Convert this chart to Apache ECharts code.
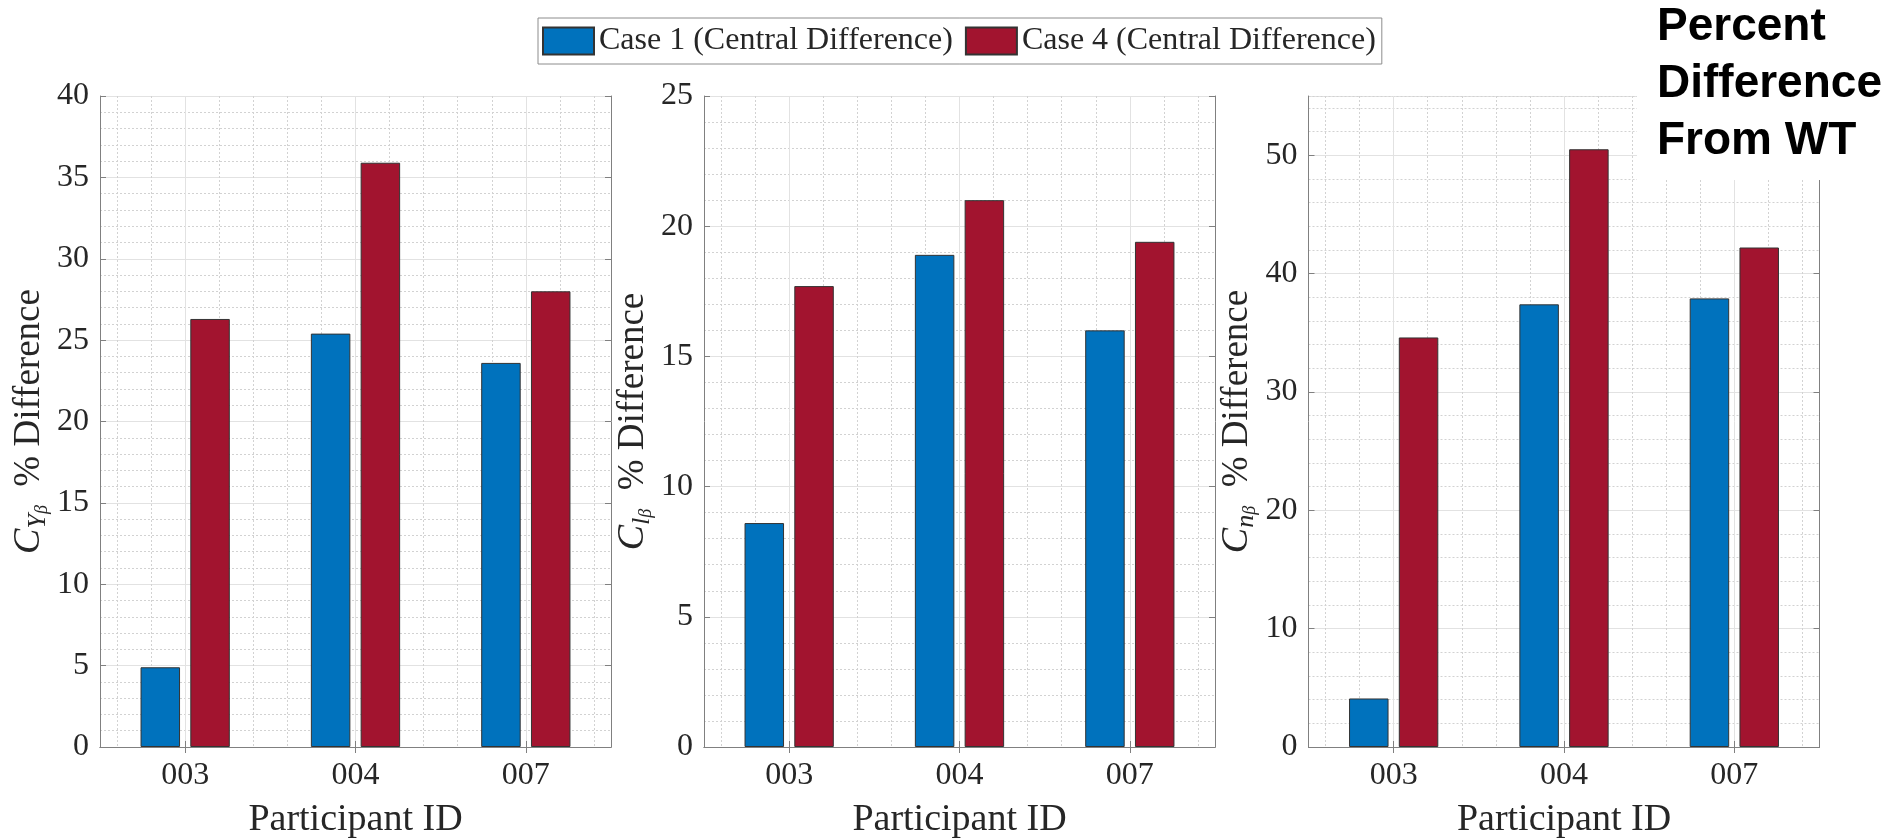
<!DOCTYPE html>
<html><head><meta charset="utf-8">
<script src="https://cdn.jsdelivr.net/npm/echarts@6/dist/echarts.min.js"></script>
<style>html,body{margin:0;padding:0;background:#fff;} #c{width:1901px;height:838px;}</style>
</head><body><div id="c"></div>
<script>
// ---- data ----
const categories = ['003', '004', '007'];
const seriesNames = ['Case 1 (Central Difference)', 'Case 4 (Central Difference)'];
const case1_CY = [4.9, 25.4, 23.6];
const case4_CY = [26.3, 35.9, 28.0];
const case1_Cl = [8.6, 18.9, 16.0];
const case4_Cl = [17.7, 21.0, 19.4];
const case1_Cn = [4.1, 37.4, 37.9];
const case4_Cn = [34.6, 50.5, 42.2];
const yMaxes = [40, 25, 55];
const yMajor = [5, 5, 10];
const yMinor = [1, 1, 2];
const subLetters = ['Y', 'l', 'n'];
const xName = 'Participant ID';
const annotation = ['Percent', 'Difference', 'From WT'];

// ---- style ----
const SERIF = '"Liberation Serif", "Times New Roman", serif';
const TXT = '#262626';
const AX = '#808080';
const MAJ = '#e2e2e2';
const MIN = '#d2d2d2';
const T = 'rgba(0,0,0,0)';
const colors = ['#0072BD', '#A2142F'];
const lefts = [100, 704, 1308.5];
const W = 511, TOP = 96, H = 651;

const panels = [[case1_CY, case4_CY], [case1_Cl, case4_Cl], [case1_Cn, case4_Cn]];

const grid = [], xAxis = [], yAxis = [], series = [];
panels.forEach((vals, i) => {
  grid.push({left: lefts[i], top: TOP, width: W, height: H, containLabel: false, outerBoundsMode: 'none'});
  // bottom category axis
  xAxis.push({
    type: 'category', gridIndex: i, data: categories, position: 'bottom',
    axisLine: {show: true, lineStyle: {color: AX, width: 1}},
    axisTick: {show: true, inside: true, alignWithLabel: true, length: 6, lineStyle: {color: AX}},
    axisLabel: {fontFamily: SERIF, fontSize: 32, color: TXT, margin: 13},
    splitLine: {show: false},
    name: xName, nameLocation: 'middle', nameGap: 54,
    nameTextStyle: {fontFamily: SERIF, fontSize: 38, color: TXT}
  });
  // top category axis (box)
  xAxis.push({
    type: 'category', gridIndex: i, data: categories, position: 'top',
    axisLine: {show: true, lineStyle: {color: AX, width: 1}},
    axisTick: {show: true, inside: true, alignWithLabel: true, length: 6, lineStyle: {color: AX}},
    axisLabel: {show: false}, splitLine: {show: false}
  });
  // minor vertical grid
  xAxis.push({
    type: 'value', gridIndex: i, min: 0.5, max: 3.5, interval: 0.1, position: 'bottom',
    axisLine: {show: false}, axisTick: {show: false}, axisLabel: {show: false},
    splitLine: {show: true, lineStyle: {color: [T, MIN, T, MIN, T, T, T, MIN, T, MIN], type: [2, 2], width: 1}}
  });
  // major vertical grid
  xAxis.push({
    type: 'value', gridIndex: i, min: 0.5, max: 3.5, interval: 0.5, position: 'bottom',
    axisLine: {show: false}, axisTick: {show: false}, axisLabel: {show: false},
    splitLine: {show: true, lineStyle: {color: [T, MAJ], width: 1}}
  });
  // left y axis
  yAxis.push({
    type: 'value', gridIndex: i, min: 0, max: yMaxes[i], interval: yMajor[i], position: 'left',
    axisLine: {show: true, lineStyle: {color: AX, width: 1}},
    axisTick: {show: true, inside: true, length: 6, lineStyle: {color: AX}},
    axisLabel: {fontFamily: SERIF, fontSize: 32, color: TXT, margin: 11, showMaxLabel: i !== 2},
    splitLine: {show: true, lineStyle: {color: MAJ, width: 1}},
    name: '{c|C}{s|' + subLetters[i] + '}{b|β}{t|  % Difference}',
    nameLocation: 'middle', nameRotate: 90, nameGap: 49,
    nameTextStyle: {
      rich: {
        c: {fontFamily: SERIF, fontStyle: 'italic', fontSize: 38, color: TXT, lineHeight: 44},
        s: {fontFamily: SERIF, fontStyle: 'italic', fontSize: 26, color: TXT, lineHeight: 26, verticalAlign: 'bottom'},
        b: {fontFamily: SERIF, fontStyle: 'italic', fontSize: 18, color: TXT, lineHeight: 12, verticalAlign: 'bottom'},
        t: {fontFamily: SERIF, fontSize: 37, color: TXT, lineHeight: 44}
      }
    }
  });
  // right y axis (box)
  yAxis.push({
    type: 'value', gridIndex: i, min: 0, max: yMaxes[i], interval: yMajor[i], position: 'right',
    axisLine: {show: true, lineStyle: {color: AX, width: 1}},
    axisTick: {show: true, inside: true, length: 6, lineStyle: {color: AX}},
    axisLabel: {show: false}, splitLine: {show: false}
  });
  // minor horizontal grid
  yAxis.push({
    type: 'value', gridIndex: i, min: 0, max: yMaxes[i], interval: yMinor[i], position: 'left',
    axisLine: {show: false}, axisTick: {show: false}, axisLabel: {show: false},
    splitLine: {show: true, lineStyle: {color: [T, MIN, MIN, MIN, MIN], type: [2, 2], width: 1}}
  });
  vals.forEach((arr, k) => {
    series.push({
      type: 'bar', name: seriesNames[k], xAxisIndex: 4 * i, yAxisIndex: 3 * i,
      data: arr, barWidth: 39.5, barGap: '26%', z: 3,
      itemStyle: {color: colors[k], borderColor: '#333', borderWidth: 1}
    });
  });
});

const chart = echarts.init(document.getElementById('c'), null, {renderer: 'canvas'});
chart.setOption({
  animation: false,
  backgroundColor: '#fff',
  legend: {
    data: seriesNames, left: 538, top: 18, orient: 'horizontal',
    padding: [7, 6, 7, 4], itemWidth: 51, itemHeight: 27, itemGap: 12,
    borderColor: '#8c8c8c', borderWidth: 1, backgroundColor: '#fff',
    icon: 'rect', selectedMode: false,
    textStyle: {fontFamily: SERIF, fontSize: 32, color: TXT}
  },
  grid, xAxis, yAxis, series,
  graphic: [
    {type: 'rect', left: 1637, top: 0, shape: {width: 264, height: 180}, style: {fill: '#fff'}, z: 100},
    {type: 'text', left: 1657, top: -1, z: 101,
     style: {text: annotation.join('\n'), font: 'bold 46px "Liberation Sans", Arial, sans-serif', lineHeight: 57, fill: '#000'}}
  ]
});
</script></body></html>
